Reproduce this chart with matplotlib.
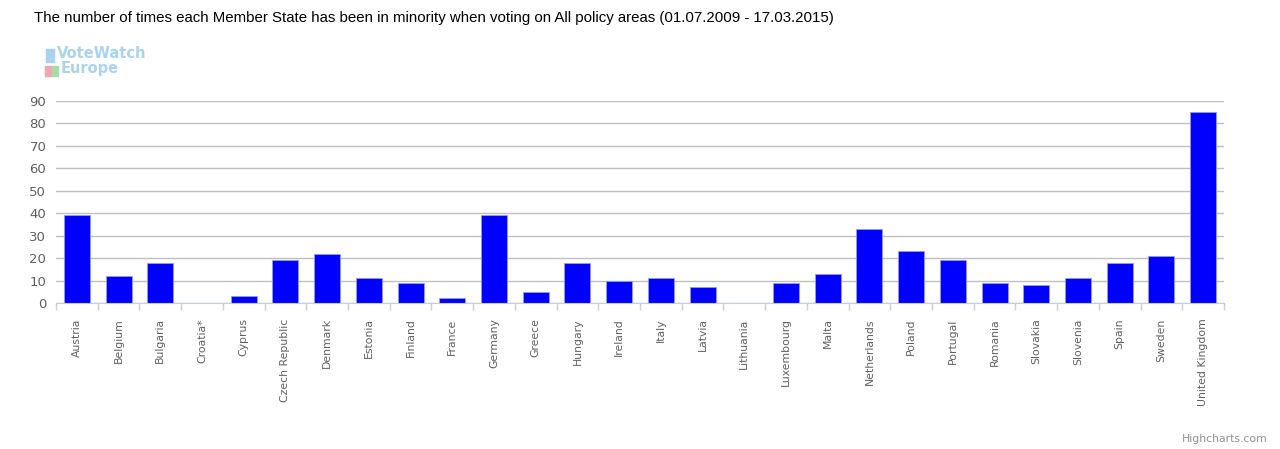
import matplotlib.pyplot as plt
import matplotlib.patches as mpatches
import numpy as np

countries = ["Austria", "Belgium", "Bulgaria", "Croatia*", "Cyprus", "Czech Republic",
             "Denmark", "Estonia", "Finland", "France", "Germany", "Greece", "Hungary",
             "Ireland", "Italy", "Latvia", "Lithuania", "Luxembourg", "Malta",
             "Netherlands", "Poland", "Portugal", "Romania", "Slovakia", "Slovenia",
             "Spain", "Sweden", "United Kingdom"]
minority = [39, 12, 18, 0, 3, 19, 22, 11, 9, 2, 39, 5, 18, 10, 11, 7, 0, 9, 13,
            33, 23, 19, 9, 8, 11, 18, 21, 85]
yticks = [0, 10, 20, 30, 40, 50, 60, 70, 80, 90]

fig = plt.figure(figsize=(12.8, 4.49), dpi=100)
ax = fig.add_axes([0.04375, 0.3252, 0.9125, 0.4498])

x = np.arange(len(countries))
ax.bar(x, minority, width=0.62, color="#0000FF", edgecolor="#9999ff", linewidth=0.6, zorder=3)

ax.set_xlim(-0.5, len(countries) - 0.5)
ax.set_ylim(0, 90)
ax.set_yticks(yticks)
ax.set_yticklabels([str(v) for v in yticks], color="#606060", fontsize=9.5)
ax.set_xticks(x)
ax.set_xticklabels(countries, rotation=90, color="#606060", fontsize=7.8)
ax.set_xticks(np.arange(len(countries) + 1) - 0.5, minor=True)
ax.tick_params(axis="x", which="major", length=0, pad=11)
ax.tick_params(axis="x", which="minor", length=5, color="#C0D0E0", width=1)
ax.tick_params(axis="y", length=0, pad=7)

ax.grid(axis="y", color="#C0C0C0", linewidth=1, zorder=0)
for s in ["top", "right", "left"]:
    ax.spines[s].set_visible(False)
ax.spines["bottom"].set_color("#C0D0E0")
ax.spines["bottom"].set_zorder(4)

fig.text(34 / 1280, 1 - 18 / 449,
         "The number of times each Member State has been in minority when voting on All policy areas (01.07.2009 - 17.03.2015)",
         fontsize=10.85, color="black", va="center", ha="left", family="Liberation Sans")

# logo
fig.text(57 / 1280, 1 - 53 / 449, "VoteWatch", fontsize=10.5, color="#a8d4ef",
         va="center", ha="left", fontweight="bold")
fig.text(61 / 1280, 1 - 69 / 449, "Europe", fontsize=10.5, color="#a8d4ef",
         va="center", ha="left", fontweight="bold")
fig.patches.append(mpatches.Rectangle((45 / 1280, 1 - 76 / 449), 6 / 1280, 10 / 449,
                                      transform=fig.transFigure, color="#f0a8b0"))
fig.patches.append(mpatches.Rectangle((52 / 1280, 1 - 76 / 449), 6 / 1280, 10 / 449,
                                      transform=fig.transFigure, color="#a8dca8"))
fig.patches.append(mpatches.Rectangle((46 / 1280, 1 - 62 / 449), 8 / 1280, 13 / 449,
                                      transform=fig.transFigure, color="#a8d4ef"))

fig.text(1268 / 1280, 1 - 439 / 449, "Highcharts.com", fontsize=7.8, color="#909090",
         va="center", ha="right")

plt.savefig("out.png", dpi=100)
